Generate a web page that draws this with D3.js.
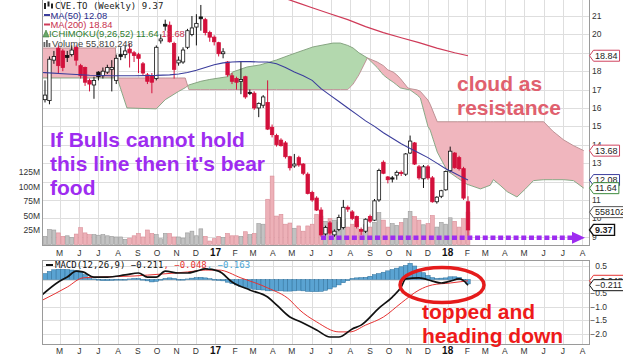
<!DOCTYPE html>
<html><head><meta charset="utf-8">
<script src="https://cdn.jsdelivr.net/npm/d3@7"></script>
<style>
html,body{margin:0;padding:0;background:#fff;}
svg{display:block;font-family:"Liberation Sans",Arial,sans-serif;}
</style></head><body>
<svg id="chart" width="623" height="357"></svg>
<script>
// Weekly bars, first week ending Fri 8 Apr 2016
const firstWeek = new Date(2016, 3, 8);

const opens = [16.45,16.4,18.6,19.25,19.1,18.85,18.9,19.3,18.3,18.2, 17.5,17.25,17.95,17.75,17.95,18.1,17.5,18.9,18.9,19.2,
  19.0,18.9,18.4,17.8,17.75,17.6,19.65,20.55,20.5,19.5, 18.45,18.5,19.3,20.0,20.4,20.95,20.8,20.1,19.85,19.55,
  18.95,18.5,17.75,17.6,17.45,17.7,16.85,16.8,16.0,16.15, 16.3,14.95,14.5,14.25,14.1,13.35,12.85,13.3,12.95,12.4,
  11.4,11.1,10.45,9.15,9.75,9.1,9.4,9.5,10.6,10.35, 10.1,9.4,9.3,10.1,9.9,11.0,13.05,12.25,12.2,12.35,
  12.5,12.4,13.55,14.1,12.8,12.15,12.8,12.2,10.9,11.2, 11.55,12.6,13.55,13.3,12.7,10.9];
const highs = [17.5,18.8,19.1,19.4,19.2,19.1,19.4,19.4,18.4,18.25, 17.6,17.7,18.0,18.2,18.35,18.6,18.9,19.3,19.4,19.5,
  19.1,19.0,18.5,17.9,17.9,19.4,20.0,20.8,20.7,19.6, 18.8,19.3,20.3,21.0,21.1,21.6,20.9,20.2,19.95,19.6,
  19.25,18.55,17.9,17.7,18.5,17.75,17.0,16.9,16.3,16.7, 17.5,15.1,14.6,14.35,14.2,13.4,13.5,13.4,13.0,12.5,
  11.5,11.2,10.6,9.6,9.85,9.4,10.2,11.0,10.7,10.45, 10.15,9.5,10.0,10.2,11.05,12.7,13.15,12.3,12.3,12.6,
  12.6,13.55,14.5,14.15,12.9,12.9,12.9,12.3,11.2,11.55, 12.6,13.9,13.6,13.4,12.8,11.2];
const lows = [16.3,16.2,18.4,17.9,18.0,18.5,18.8,18.3,17.6,17.2, 16.9,16.5,17.5,17.6,17.85,16.9,17.3,18.6,18.7,18.2,
  18.5,17.9,17.8,17.3,16.8,17.5,19.5,20.2,19.55,17.6, 18.3,18.4,19.2,19.9,19.4,20.2,19.95,19.6,19.4,18.8,
  18.7,17.7,17.3,17.0,16.75,16.5,16.7,15.9,15.5,16.0, 14.8,14.4,13.9,13.9,13.25,12.6,12.75,12.8,12.35,11.3,
  10.9,10.4,9.0,9.05,9.1,9.0,9.3,9.4,10.35,9.9, 9.45,9.1,9.2,9.75,9.85,10.9,12.4,11.9,11.95,12.1,
  12.3,12.3,13.5,12.9,12.1,11.65,12.1,10.85,10.8,11.1, 11.5,12.5,12.7,12.6,11.0,9.05];
const closes = [16.7,18.65,18.8,18.3,18.2,18.75,19.15,18.6,17.75,17.4, 17.3,17.5,17.7,18.0,18.2,18.2,18.7,18.8,19.1,19.0,
  18.85,18.7,17.9,17.45,17.4,19.3,19.75,20.45,19.6,18.1, 18.6,19.15,20.2,20.35,20.6,20.85,20.1,19.85,19.6,18.95,
  19.05,17.8,17.45,17.4,17.55,16.6,16.8,16.0,16.25,16.6, 14.85,14.55,14.0,13.95,13.35,12.75,12.95,12.9,12.45,11.35,
  11.0,10.45,9.1,9.5,9.2,9.3,10.05,10.6,10.5,10.0, 9.55,9.3,9.95,9.85,10.95,12.6,12.45,12.1,12.15,12.5,
  12.45,13.5,14.2,12.95,12.2,12.8,12.2,10.9,11.15,11.5, 12.55,13.65,12.75,12.7,11.1,9.37];
// weekly volume, millions of shares
const volumes = [14,26,25,20,14,15,12,18,29,20, 17,17,16,17,15,14,13,13,9,11,
  15,19,13,25,19,17,10,19,19,13, 13,11,20,23,15,27,14,6,10,14,
  12,19,15,15,14,22,17,19,36,35, 78,118,49,52,35,37,28,32,23,32,
  35,52,49,40,45,42,38,44,30,35, 40,25,34,30,38,55,42,30,36,33,
  38,45,57,48,42,34,36,50,30,38, 35,46,40,30,45,55.810248];

// moving averages (week offset, value)
const ma50Weeks = [-1,0,5,10,15,20,25,28,30,32,34,36,38,40,42,44,46,48,50,52,54,56,58,60,62,64,66,68,70,72,74,76,78,80,82,84,86,88,90,92,94,95];
const ma50Values = [17.93,17.92,17.85,17.78,17.75,17.75,17.77,17.8,17.85,17.93,18.05,18.2,18.35,18.45,18.5,18.52,18.52,18.5,18.5,18.4,18.2,17.95,17.75,17.5,17.05,16.7,16.35,16.0,15.65,15.3,15.0,14.65,14.35,14.05,13.8,13.55,13.3,13.0,12.7,12.45,12.2,12.08];
const ma200Weeks = [50,54,57,60,64,68,72,76,80,84,88,92,95];
const ma200Values = [22.3,21.95,21.7,21.45,21.12,20.8,20.42,20.1,19.82,19.55,19.25,19.0,18.84];

// Ichimoku cloud, plotted 26 weeks ahead
const cloudWeeks = [-1,15.8,16.2,18.4,25,27,30,31.5,32.3,35, 37,41,42.2,45.4,48.3,52,55,60.2,64.7,66.3,
  68,69.2,70.5,72.4,74.6,76,77,78.2,79,79.8, 81.5,82,83.6,84.3,86,86.5,88.1,90.3,92.6,94.8,
  97.8,100,100.7,102.2,103.8,106,107.9,109.7,112,114, 116.5,118.7,121];
const spanA = [17.63,17.63,17.63,16.0,15.95,16.45,16.9,17.1,17.25,17.45, 17.55,17.7,17.96,18.23,18.34,18.61,18.88,19.32,19.53,19.53,
  19.4,19.26,19.0,18.72,18.2,17.79,17.6,17.4,17.25,17.09, 17.0,16.98,16.7,16.54,15.0,14.8,13.6,12.6,12.2,11.85,
  11.6,11.8,12.1,11.8,11.45,11.16,11.6,12.05,12.1,12.1, 12.1,12.05,11.64];
const spanB = [19.26,19.26,17.63,17.63,17.63,17.63,17.63,17.63,17.0,17.0, 17.0,17.0,17.0,17.0,17.0,17.0,17.0,17.0,17.0,17.0,
  17.0,17.3,17.8,18.72,18.5,18.3,18.07,17.95,17.8,17.6, 17.09,17.05,16.98,16.9,16.43,16.2,15.25,15.25,15.25,15.25,
  15.25,15.25,15.25,15.25,15.25,15.25,15.25,15.25,15.25,14.75, 14.26,13.95,13.68];

// MACD(12,26,9)
const histValues = [0.22,0.3,0.36,0.38,0.38,0.37,0.35,0.33,0.27,0.18, 0.08,0.02,-0.02,-0.04,-0.04,-0.03,-0.02,-0.01,0.0,0.02,
  0.04,0.04,0.0,-0.05,-0.09,-0.07,-0.02,0.04,0.06,0.04, 0.0,-0.01,0.02,0.05,0.07,0.08,0.06,0.03,0.0,-0.03,
  -0.05,-0.1,-0.15,-0.2,-0.25,-0.3,-0.33,-0.36,-0.38,-0.39, -0.42,-0.42,-0.42,-0.42,-0.43,-0.43,-0.42,-0.4,-0.42,-0.44,
  -0.45,-0.45,-0.44,-0.4,-0.35,-0.28,-0.2,-0.12,-0.04,0.04, 0.06,0.07,0.08,0.12,0.18,0.22,0.27,0.32,0.37,0.42,
  0.47,0.52,0.6,0.5,0.38,0.25,0.15,0.07,0.04,0.05, 0.06,0.1,0.1,0.08,0.0,-0.163];
const macdWeeks = [-1,3,5,7,8.5,11,14,18,21,23, 25,27,30,32,34,36,39,42,46,50, 52,55,57,61,64,66,69,71,75,78, 80,81,84,87,89,91,93,94,95];
const macdValues = [-0.62,-0.09,0.09,0.31,0.28,0.09,0.09,0.17,0.24,0.09, 0.09,0.31,0.24,0.24,0.31,0.39,0.31,-0.09,-0.39,-0.65,
  -0.94,-1.39,-1.54,-1.87,-2.13,-2.13,-1.83,-1.69,-1.06,-0.65, -0.28,0.02,0.06,-0.06,-0.13,-0.06,0.02,-0.04,-0.211];
const signalWeeks = [-1,5,8.5,12,20,26,32,36,39,44,50,55,57,61,66,68.5,72,76,80,84,87,91,95];
const signalValues = [-0.8,-0.28,0.06,0.09,0.13,0.2,0.28,0.35,0.35,0.06,-0.31,-0.76,-1.1,-1.57,-1.94,-1.94,-1.69,-1.39,-0.87,-0.39,-0.2,-0.13,-0.048];

const priceTicks = [21,20,19,18,17,16,15,14,13,12,11,10,9];
const volumeTicks = [25,50,75,100,125];
const macdTicks = [0.5,0,-0.5,-1.0,-1.5,-2.0];
const supportLevel = 8.95;

// ---- layout
const L = 42, R = 589, mainBottom = 245, macdTop = 260, macdBottom = 344;
const DAY = 864e5;
const weekDate = w => new Date(firstWeek.getTime() + w * 7 * DAY);
const x = d3.scaleTime().domain([weekDate(0), weekDate(95)]).range([45, 468]);
const yP = d3.scaleLinear().domain([8.55, 21.87]).range([mainBottom, 0]);
const yV = d3.scaleLinear().domain([0, 125]).range([244.5, 172]);
const yM = d3.scaleLinear().domain([-2, 0.5]).range([333.5, 266]);

const RED = "#d3103b";
const svg = d3.select("#chart");
svg.append("rect").attr("width", 623).attr("height", 357).attr("fill", "#fff");
const defs = svg.append("defs");
defs.append("clipPath").attr("id", "clipMain").append("rect")
  .attr("x", L).attr("y", 0).attr("width", R - L).attr("height", mainBottom);
defs.append("clipPath").attr("id", "clipMacd").append("rect")
  .attr("x", L).attr("y", macdTop).attr("width", R - L).attr("height", macdBottom - macdTop);

// ---- grids
const months = d3.timeMonth.range(new Date(2016, 4, 1), new Date(2018, 8, 1));
const grid = svg.append("g").attr("stroke", "#dedede").attr("stroke-width", 1);
months.forEach(m => {
  const gx = Math.round(x(m)) + 0.5;
  if (gx <= L || gx >= R) return;
  grid.append("line").attr("x1", gx).attr("x2", gx).attr("y1", 0).attr("y2", mainBottom);
  grid.append("line").attr("x1", gx).attr("x2", gx).attr("y1", macdTop).attr("y2", macdBottom);
});
priceTicks.forEach(p => {
  const gy = Math.round(yP(p)) + 0.5;
  grid.append("line").attr("x1", L).attr("x2", R).attr("y1", gy).attr("y2", gy);
});
macdTicks.forEach(v => {
  const gy = Math.round(yM(v)) + 0.5;
  grid.append("line").attr("x1", L).attr("x2", R).attr("y1", gy).attr("y2", gy);
});

// ---- main panel
const gMain = svg.append("g").attr("clip-path", "url(#clipMain)");

// cloud
const cloud = cloudWeeks.map((w, i) => ({ d: weekDate(w), a: spanA[i], b: spanB[i] }));
defs.append("clipPath").attr("id", "aboveB").append("path")
  .attr("d", d3.area().x(p => x(p.d)).y0(p => yP(p.b)).y1(-50)(cloud));
defs.append("clipPath").attr("id", "aboveA").append("path")
  .attr("d", d3.area().x(p => x(p.d)).y0(p => yP(p.a)).y1(-50)(cloud));
const band = d3.area().x(p => x(p.d)).y0(p => yP(p.a)).y1(p => yP(p.b));
gMain.append("path").attr("d", band(cloud)).attr("fill", "#b3d8ae").attr("clip-path", "url(#aboveB)");
gMain.append("path").attr("d", band(cloud)).attr("fill", "#f0b6be").attr("clip-path", "url(#aboveA)");
gMain.append("path").attr("d", d3.line().x(p => x(p.d)).y(p => yP(p.a))(cloud))
  .attr("fill", "none").attr("stroke", "#7c9f79").attr("stroke-width", 0.9);
gMain.append("path").attr("d", d3.line().x(p => x(p.d)).y(p => yP(p.b))(cloud))
  .attr("fill", "none").attr("stroke", "#b98a8f").attr("stroke-width", 0.9);

// volume
const isDown = i => i > 0 && closes[i] < closes[i - 1];
const bw = 3.8;
gMain.append("g").selectAll("rect").data(volumes).join("rect")
  .attr("x", (v, i) => x(weekDate(i)) - bw / 2)
  .attr("y", v => yV(v))
  .attr("width", bw)
  .attr("height", v => yV(0) - yV(v))
  .attr("fill", (v, i) => isDown(i) ? "#edb1b8" : "#c2c2c2")
  .attr("stroke", (v, i) => isDown(i) ? "#d98c96" : "#9a9a9a")
  .attr("stroke-width", 0.6);

// candles
const gC = gMain.append("g");
closes.forEach((c, i) => {
  const o = opens[i], cx = x(weekDate(i));
  const col = isDown(i) ? RED : "#111";
  gC.append("line").attr("x1", cx).attr("x2", cx).attr("y1", yP(highs[i])).attr("y2", yP(lows[i]))
    .attr("stroke", col).attr("stroke-width", 1);
  const top = yP(Math.max(o, c)), h = Math.max(1.2, Math.abs(yP(o) - yP(c)));
  gC.append("rect").attr("x", cx - 1.7).attr("y", top).attr("width", 3.4).attr("height", h)
    .attr("fill", c > o ? "#fff" : col).attr("stroke", col).attr("stroke-width", 0.8);
});

// moving averages
const ma50 = ma50Weeks.map((w, i) => [x(weekDate(w)), yP(ma50Values[i])]);
const ma200 = ma200Weeks.map((w, i) => [x(weekDate(w)), yP(ma200Values[i])]);
gMain.append("path").attr("d", d3.line()(ma50)).attr("fill", "none").attr("stroke", "#3b3d9c").attr("stroke-width", 1.1);
gMain.append("path").attr("d", d3.line()(ma200)).attr("fill", "none").attr("stroke", "#cf3a58").attr("stroke-width", 1.2);

// ---- MACD panel
const gM = svg.append("g").attr("clip-path", "url(#clipMacd)");
const hw = 4.45;
gM.append("g").selectAll("rect").data(histValues).join("rect")
  .attr("x", (v, i) => x(weekDate(i)) - hw / 2)
  .attr("y", v => Math.min(yM(v), yM(0)))
  .attr("width", hw)
  .attr("height", v => Math.max(0.6, Math.abs(yM(v) - yM(0))))
  .attr("fill", "#5aa3d2").attr("stroke", "#2d6f9a").attr("stroke-width", 0.5);
gM.append("path").attr("d", d3.line().curve(d3.curveMonotoneX)(signalWeeks.map((w, i) => [x(weekDate(w)), yM(signalValues[i])])))
  .attr("fill", "none").attr("stroke", "#e63232").attr("stroke-width", 1);
gM.append("path").attr("d", d3.line().curve(d3.curveMonotoneX)(macdWeeks.map((w, i) => [x(weekDate(w)), yM(macdValues[i])])))
  .attr("fill", "none").attr("stroke", "#111").attr("stroke-width", 1.7);

// ---- frames
const frame = svg.append("g").attr("fill", "none").attr("stroke", "#9a9a9a").attr("stroke-width", 1);
frame.append("rect").attr("x", L + 0.5).attr("y", -1).attr("width", R - L).attr("height", mainBottom + 1.5);
frame.append("rect").attr("x", L + 0.5).attr("y", macdTop + 0.5).attr("width", R - L).attr("height", macdBottom - macdTop);

// ---- axes text
[255.5, 353.5].forEach(by => {
  months.forEach(m => {
    const isJan = m.getMonth() === 0;
    const label = isJan ? d3.timeFormat("%y")(m) : d3.timeFormat("%b")(m)[0];
    svg.append("text").attr("x", x(m)).attr("y", by).attr("text-anchor", "middle")
      .attr("font-size", isJan ? 10 : 8.5).attr("font-weight", isJan ? "bold" : "normal")
      .attr("fill", isJan ? "#111" : "#333").text(label);
  });
});
priceTicks.forEach(p => {
  svg.append("text").attr("x", 592).attr("y", yP(p) + 3).attr("font-size", 8.5).attr("fill", "#333").text(p);
});
volumeTicks.forEach(v => {
  svg.append("text").attr("x", 40).attr("y", yV(v) + 3).attr("text-anchor", "end")
    .attr("font-size", 8.5).attr("fill", "#333").text(v + "M");
});
macdTicks.forEach(v => {
  svg.append("text").attr("x", 607).attr("y", yM(v) + 3).attr("text-anchor", "end")
    .attr("font-size", 8.5).attr("fill", "#333").text(d3.format(".1f")(v));
});

// ---- value tags on the right edge
function tag(y, text, color, bold) {
  const g = svg.append("g");
  const t = g.append("text").attr("x", 595).attr("y", y + 3.2).attr("font-size", 9)
    .attr("font-weight", bold ? "bold" : "normal").attr("fill", "#222").text(text);
  const w = t.node().getComputedTextLength();
  const h = 5.5, x0 = 589.5;
  g.insert("path", "text")
    .attr("d", `M${x0},${y} L${x0 + 4},${y - h} L${595 + w + 2},${y - h} L${595 + w + 2},${y + h} L${x0 + 4},${y + h} Z`)
    .attr("fill", "#fff").attr("stroke", color).attr("stroke-width", bold ? 1.4 : 1);
}
const last = a => a[a.length - 1];
tag(yP(last(ma200Values)), d3.format(".2f")(last(ma200Values)), "#d04560");
tag(yP(last(spanB)), d3.format(".2f")(last(spanB)), "#d04560");
tag(yP(last(ma50Values)), d3.format(".2f")(last(ma50Values)), "#3b3d9c");
tag(yP(last(spanA)), d3.format(".2f")(last(spanA)), "#3c8a3c");
tag(yV(last(volumes)), String(Math.round(last(volumes) * 1e6)), "#555");
tag(yP(last(closes)), d3.format(".2f")(last(closes)), "#111", true);
tag(yM(last(signalValues)), d3.format(".3f")(last(signalValues)), "#e63232");
tag(yM(last(macdValues)), d3.format(".3f")(last(macdValues)), "#111");

// ---- legends
const lg = svg.append("g");
const legendSize = 9.4;
// candle icon
lg.append("rect").attr("x", 44).attr("y", 3).attr("width", 2).attr("height", 6).attr("fill", "#222");
lg.append("rect").attr("x", 47.5).attr("y", 1.5).attr("width", 2).attr("height", 5).attr("fill", "#222");
lg.append("rect").attr("x", 51).attr("y", 3.5).attr("width", 2).attr("height", 5).attr("fill", "#222");
lg.append("text").attr("x", 55).attr("y", 9).attr("font-family", "DejaVu Sans Mono, monospace").attr("font-size", 9)
  .attr("fill", "#222").text(`CVE.TO (Weekly) ${d3.format(".2f")(last(closes))}`);
lg.append("line").attr("x1", 44).attr("x2", 50).attr("y1", 15).attr("y2", 15).attr("stroke", "#3b3d9c").attr("stroke-width", 2);
lg.append("text").attr("x", 50.5).attr("y", 18.5).attr("font-size", legendSize).attr("fill", "#2a2c8c")
  .text(`MA(50) ${d3.format(".2f")(last(ma50Values))}`);
lg.append("line").attr("x1", 44).attr("x2", 50).attr("y1", 24.5).attr("y2", 24.5).attr("stroke", "#cf3a58").attr("stroke-width", 2);
lg.append("text").attr("x", 50.5).attr("y", 28).attr("font-size", legendSize).attr("fill", "#c8304e")
  .text(`MA(200) ${d3.format(".2f")(last(ma200Values))}`);
lg.append("path").attr("d", "M43,37 L46,30 L49,37 Z").attr("fill", "#6aa86a").attr("stroke", "#3c7a3c").attr("stroke-width", 0.6);
const ich = lg.append("text").attr("x", 49).attr("y", 37.3).attr("font-size", legendSize);
ich.append("tspan").attr("fill", "#2e7d2e").text(`ICHIMOKU(9,26,52) ${d3.format(".2f")(last(spanA))} `);
ich.append("tspan").attr("fill", "#c8304e").text(d3.format(".2f")(last(spanB)));
[[43.5, 42], [46, 40], [48.5, 43]].forEach(([bx, by]) =>
  lg.append("rect").attr("x", bx).attr("y", by).attr("width", 1.8).attr("height", 47 - by).attr("fill", "#666"));
lg.append("text").attr("x", 52).attr("y", 46.8).attr("font-size", legendSize).attr("fill", "#444")
  .text(`Volume ${d3.format(",")(Math.round(last(volumes) * 1e6))}`);

const ml = svg.append("text").attr("x", 55).attr("y", 268).attr("font-family", "DejaVu Sans Mono, monospace").attr("font-size", 9);
svg.append("line").attr("x1", 46).attr("x2", 53).attr("y1", 265).attr("y2", 265).attr("stroke", "#111").attr("stroke-width", 2);
ml.append("tspan").attr("fill", "#111").text(`MACD(12,26,9) ${d3.format(".3f")(last(macdValues))}`);
ml.append("tspan").attr("fill", "#e63232").text(`, ${d3.format(".3f")(last(signalValues))}`);
ml.append("tspan").attr("fill", "#4aa6d6").text(`, ${d3.format(".3f")(last(histValues))}`);

// ---- annotations
const purple = "#9e2cf0";
const ySup = yP(supportLevel);
const xSup0 = x(weekDate(62));
svg.append("line").attr("x1", xSup0).attr("x2", 573).attr("y1", ySup).attr("y2", ySup)
  .attr("stroke", purple).attr("stroke-width", 4.5).attr("stroke-dasharray", "5,2.7");
svg.append("path").attr("d", `M572,${ySup - 6} L585,${ySup} L572,${ySup + 6} Z`).attr("fill", purple);

const big = (tx, ty, str, color) => svg.append("text").attr("x", tx).attr("y", ty)
  .attr("font-size", 21).attr("font-weight", "bold").attr("fill", color).text(str);
big(50, 147, "If Bulls cannot hold", purple);
big(50, 171, "this line then it's bear", purple);
big(50, 195, "food", purple);
big(457, 91, "cloud as", "#e0606e");
big(457, 115, "resistance", "#e0606e");
big(422, 319, "topped and", "#ee1a1a");
big(422, 343, "heading down", "#ee1a1a");
svg.append("ellipse").attr("cx", 442).attr("cy", 285).attr("rx", 42).attr("ry", 17.5)
  .attr("fill", "none").attr("stroke", "#e51b1b").attr("stroke-width", 3.5);
</script>
</body></html>
